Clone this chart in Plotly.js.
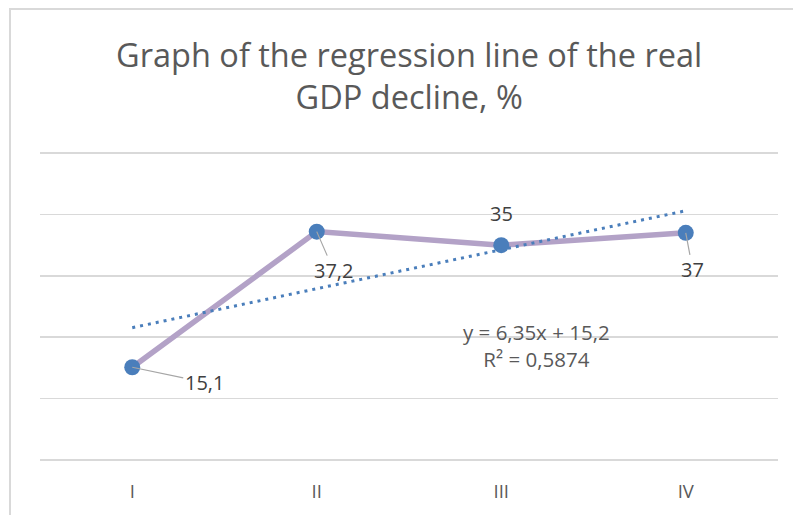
<!DOCTYPE html>
<html>
<head>
<meta charset="utf-8">
<script src="https://cdn.plot.ly/plotly-3.0.1.min.js"></script>
<style>
html, body { margin: 0; padding: 0; background: #ffffff; }
#wrap { position: relative; width: 793px; height: 515px; overflow: hidden; }
#chart { width: 793px; height: 515px; }
#frame { position: absolute; left: 9px; top: 8px; width: 900px; height: 600px;
  border-left: 2px solid #d9d9d9; border-top: 2px solid #d9d9d9; pointer-events: none; }
</style>
</head>
<body>
<div id="wrap"><div id="chart"></div><div id="frame"></div></div>
<script>
// ---- data ----
const categories = ["I", "II", "III", "IV"];
const values = [15.1, 37.2, 35, 37];
const valueLabels = ["15,1", "37,2", "35", "37"];
const chartTitle = "Graph of the regression line of the real<br>GDP decline, %";

// ---- label placement (pixel offsets, style only) ----
const labelOffsets = [[72, 15], [17, 39], [0, -32], [7, 37]];
const labelLeader = [true, true, false, true];

// ---- linear regression computed from the data ----
const xs = categories.map((c, i) => i + 1);
const n = xs.length;
const mx = xs.reduce((a, b) => a + b, 0) / n;
const my = values.reduce((a, b) => a + b, 0) / n;
let sxy = 0, sxx = 0, syy = 0;
for (let i = 0; i < n; i++) {
  sxy += (xs[i] - mx) * (values[i] - my);
  sxx += (xs[i] - mx) ** 2;
  syy += (values[i] - my) ** 2;
}
const slope = sxy / sxx;
const intercept = my - slope * mx;
const r2 = (sxy * sxy) / (sxx * syy);
const trendY = xs.map(x => slope * x + intercept);
const fmt = (v, d) => v.toFixed(d).replace(/0+$/, '').replace(/\.$/, '').replace('.', ',');
const eqText = "y = " + fmt(slope, 2) + "x + " + fmt(intercept, 2) + "<br>R² = " + fmt(r2, 4);

const FONT = "Open Sans, Noto Sans, sans-serif";

const traces = [
  {
    x: xs, y: values, type: "scatter", mode: "lines+markers",
    line: { color: "#b3a2c7", width: 5.5 },
    marker: { color: "#4a7ebb", size: 16 },
    hoverinfo: "skip", showlegend: false
  },
  {
    x: xs, y: trendY, type: "scatter", mode: "lines",
    line: { color: "#4a7ebb", width: 3, dash: "3px,5px" },
    hoverinfo: "skip", showlegend: false
  }
];

const annotations = values.map((v, i) => ({
  x: xs[i], y: v, xref: "x", yref: "y",
  text: valueLabels[i],
  showarrow: labelLeader[i],
  ax: labelOffsets[i][0], ay: labelOffsets[i][1],
  xshift: labelLeader[i] ? 0 : labelOffsets[i][0],
  yshift: labelLeader[i] ? 0 : -labelOffsets[i][1],
  arrowhead: 0, arrowwidth: 1.2, arrowcolor: "#a6a6a6", standoff: 0,
  font: { family: FONT, size: 20, color: "#404040" }
}));
annotations.push({
  x: 3.19, y: 18.7, xref: "x", yref: "y", text: eqText, showarrow: false,
  align: "center",
  font: { family: FONT, size: 20.5, color: "#595959" }
});

const layout = {
  width: 793, height: 515,
  margin: { l: 40, r: 15, t: 150, b: 52 },
  paper_bgcolor: "#ffffff", plot_bgcolor: "#ffffff",
  title: {
    text: chartTitle,
    font: { family: FONT, size: 32.5, color: "#595959" },
    x: 0.516, xanchor: "center",
    y: 0.870, yanchor: "top", yref: "container"
  },
  xaxis: {
    range: [0.5, 4.5], tickvals: xs, ticktext: categories,
    showgrid: false, zeroline: false, showline: false, ticks: "",
    tickfont: { family: FONT, size: 18.5, color: "#595959" },
    ticklabelstandoff: 15,
    fixedrange: true
  },
  yaxis: {
    range: [-0.5, 50.5], tickvals: [0, 10, 20, 30, 40, 50], showticklabels: false,
    showgrid: true, gridcolor: "#d9d9d9", gridwidth: 1.5,
    zeroline: false, showline: false, ticks: "", fixedrange: true
  },
  annotations: annotations,
  showlegend: false
};

Plotly.newPlot("chart", traces, layout, { displayModeBar: false, staticPlot: true });
</script>
</body>
</html>
